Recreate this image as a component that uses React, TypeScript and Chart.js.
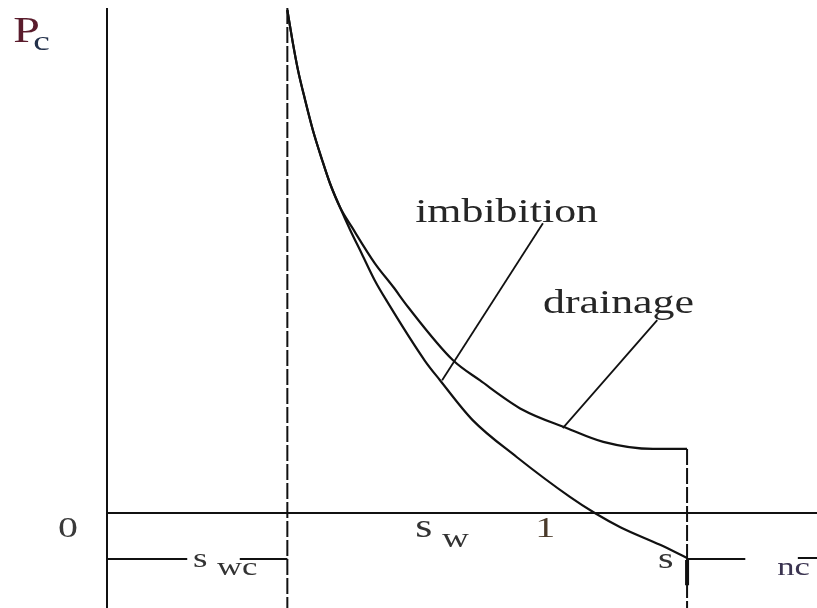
import { useEffect, useRef } from 'react';
import { Chart, registerables } from 'chart.js';

Chart.register(...registerables);

// Saturation (x) and capillary pressure (y), in normalised units
const S_WC = 0.254; // connate water saturation
const S_END = 0.817; // 1 - s_nc
const S_RIGHT = 1.0;
const PC_TOP = 1.0;
const PC_BOTTOM = -0.188;
const BRACKET_PC = -0.091;

const drainageS = [0.254, 0.261, 0.269, 0.279, 0.29, 0.303, 0.314, 0.328, 0.345, 0.377, 0.403, 0.424, 0.487, 0.525, 0.586, 0.648, 0.699, 0.769, 0.817];
const drainagePc = [0.996, 0.937, 0.877, 0.818, 0.758, 0.699, 0.653, 0.606, 0.566, 0.495, 0.448, 0.408, 0.303, 0.263, 0.204, 0.168, 0.141, 0.127, 0.127];

const imbibitionS = [0.254, 0.261, 0.269, 0.279, 0.29, 0.303, 0.314, 0.328, 0.342, 0.359, 0.377, 0.394, 0.448, 0.469, 0.515, 0.577, 0.652, 0.687, 0.723, 0.779, 0.817];
const imbibitionPc = [0.996, 0.937, 0.877, 0.818, 0.758, 0.699, 0.653, 0.606, 0.562, 0.513, 0.461, 0.42, 0.301, 0.263, 0.184, 0.111, 0.032, 0.0, -0.028, -0.063, -0.089];

// Leader lines from the curve names to the curves
const leaderImbibitionS = [0.614, 0.472];
const leaderImbibitionPc = [0.574, 0.263];
const leaderDrainageS = [0.775, 0.642];
const leaderDrainagePc = [0.382, 0.168];

// Text labels and their anchor points (left edge, baseline)
const labelTexts = ['imbibition', 'drainage', 'P', 'c', '0', 's', 'wc', 's', 'w', '1', 's', 'nc'];
const labelS = [0.434, 0.614, -0.132, -0.104, -0.069, 0.121, 0.155, 0.434, 0.472, 0.603, 0.776, 0.944];
const labelPc = [0.576, 0.396, 0.933, 0.917, -0.048, -0.107, -0.123, -0.048, -0.067, -0.048, -0.109, -0.123];

const SERIF = '"Liberation Serif", "Times New Roman", serif';
const labelStyles = [
  { size: 33, color: '#262626' },
  { size: 33, color: '#262626' },
  { size: 36, color: '#5a1c2c' },
  { size: 28, color: '#22304a' },
  { size: 30, color: '#3a3a3a' },
  { size: 28, color: '#333333' },
  { size: 26, color: '#333333' },
  { size: 33, color: '#333333' },
  { size: 28, color: '#333333' },
  { size: 30, color: '#4a3a2a' },
  { size: 30, color: '#333333' },
  { size: 26, color: '#3a3350' },
];
const TEXT_STRETCH = 1.33;

const pts = (xs: number[], ys: number[]) => xs.map((x, i) => ({ x, y: ys[i] }));

const INK = '#111111';
const DASH = [16, 3];

const line = (data: { x: number; y: number }[], extra: Record<string, unknown> = {}) => ({
  data,
  showLine: true,
  borderColor: INK,
  borderWidth: 2,
  pointRadius: 0,
  pointHoverRadius: 0,
  tension: 0,
  clip: false as const,
  ...extra,
});

const curve = { cubicInterpolationMode: 'monotone', borderWidth: 2.2 };

const textPlugin = {
  id: 'diagramText',
  afterDatasetsDraw(chart: Chart) {
    const { ctx, scales } = chart;
    const xs = scales.x;
    const ys = scales.y;
    ctx.save();
    ctx.textBaseline = 'alphabetic';
    ctx.textAlign = 'left';
    labelTexts.forEach((t, i) => {
      const st = labelStyles[i];
      ctx.save();
      ctx.translate(xs.getPixelForValue(labelS[i]), ys.getPixelForValue(labelPc[i]));
      ctx.scale(TEXT_STRETCH, 1);
      ctx.font = `${st.size}px ${SERIF}`;
      ctx.fillStyle = st.color;
      ctx.fillText(t, 0, 0);
      ctx.restore();
    });
    ctx.restore();
  },
};

export default function App() {
  const canvasRef = useRef<HTMLCanvasElement | null>(null);

  useEffect(() => {
    if (!canvasRef.current) return;
    const chart = new Chart(canvasRef.current, {
      type: 'scatter',
      data: {
        datasets: [
          // P_c axis
          line(pts([0, 0], [PC_TOP, PC_BOTTOM])),
          // Pc = 0 line
          line(pts([0, S_RIGHT], [0, 0])),
          // s_wc dashed boundary
          line(pts([S_WC, S_WC], [PC_TOP, PC_BOTTOM]), { borderDash: DASH }),
          // 1 - s_nc dashed boundary
          line(pts([S_END, S_END], [drainagePc[drainagePc.length - 1], PC_BOTTOM]), { borderDash: DASH }),
          line(pts([S_END, S_END], [-0.093, -0.143]), { borderWidth: 4 }),
          // s_wc bracket
          line(pts([0, 0.113], [BRACKET_PC, BRACKET_PC])),
          line(pts([0.187, S_WC], [BRACKET_PC, BRACKET_PC])),
          // s_nc bracket
          line(pts([S_END, 0.899], [BRACKET_PC, BRACKET_PC])),
          line(pts([0.973, S_RIGHT], [BRACKET_PC + 0.002, BRACKET_PC + 0.002])),
          // curves
          line(pts(drainageS, drainagePc), curve),
          line(pts(imbibitionS, imbibitionPc), curve),
          // leaders
          line(pts(leaderImbibitionS, leaderImbibitionPc), { borderWidth: 1.8 }),
          line(pts(leaderDrainageS, leaderDrainagePc), { borderWidth: 1.8 }),
        ],
      },
      options: {
        animation: false,
        responsive: false,
        maintainAspectRatio: false,
        layout: { padding: { left: 107, top: 8, right: 0, bottom: 0 } },
        plugins: { legend: { display: false }, tooltip: { enabled: false } },
        events: [],
        scales: {
          x: { type: 'linear', min: 0, max: S_RIGHT, display: false },
          y: { type: 'linear', min: PC_BOTTOM, max: PC_TOP, display: false },
        },
      },
      plugins: [textPlugin],
    });
    return () => chart.destroy();
  }, []);

  return (
    <div style={{ position: 'fixed', left: 0, top: 0, width: 817, height: 608, background: '#ffffff' }}>
      <canvas ref={canvasRef} width={817} height={608} />
    </div>
  );
}
